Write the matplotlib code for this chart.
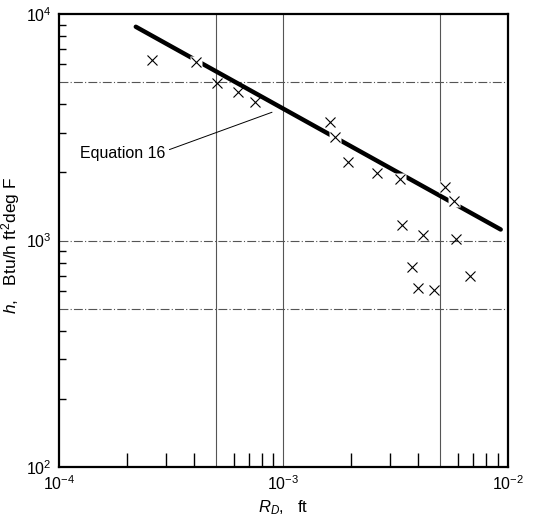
import numpy as np
import matplotlib
matplotlib.use('Agg')
import matplotlib.pyplot as plt
from matplotlib import rcParams
from matplotlib.ticker import LogLocator, NullFormatter, FixedLocator

rcParams['font.family'] = ['Liberation Sans', 'DejaVu Sans']
rcParams['mathtext.fontset'] = 'custom'
rcParams['mathtext.rm'] = 'Liberation Sans'
rcParams['mathtext.it'] = 'Liberation Sans:italic'
rcParams['mathtext.default'] = 'regular'

# 测量数据点 (R_D [ft], h [Btu/h ft2 degF])
rd_pts = [2.59e-4, 4.10e-4, 5.04e-4, 6.31e-4, 7.51e-4, 1.62e-3, 1.69e-3,
          1.94e-3, 2.62e-3, 3.31e-3, 5.25e-3, 5.75e-3, 3.38e-3, 4.19e-3,
          5.87e-3, 3.75e-3, 3.98e-3, 4.69e-3, 6.78e-3]
h_pts = [6265, 6140, 4960, 4525, 4087, 3336, 2864,
         2221, 1987, 1869, 1722, 1494, 1170, 1057,
         1015, 764, 617, 604, 697]
# 落在直线上的点（原图中直线在这些点处断开）
on_line = [False, True, False, False, False, False, True,
           False, False, True, True, True, False, False,
           False, False, False, False, False]

# Equation 16 直线端点
eq_rd = [2.2e-4, 9.3e-3]
eq_h = [8800, 1120]

grid_x = [5e-4, 1e-3, 5e-3]
grid_y = [5e3, 1e3, 5e2]

fig = plt.figure(figsize=(5.46, 5.26), dpi=100)
ax = fig.add_axes([0.108, 0.112, 0.822, 0.861])
ax.set_xscale('log')
ax.set_yscale('log')
ax.set_xlim(1e-4, 1e-2)
ax.set_ylim(1e2, 1e4)

for gx in grid_x:
    ax.axvline(gx, color='#555555', lw=0.8, zorder=1)
for gy in grid_y:
    ax.axhline(gy, color='#555555', lw=0.8, ls=(0, (8, 2, 1, 2)), zorder=1)

ax.plot(eq_rd, eq_h, color='black', lw=3.2, solid_capstyle='round', zorder=2)

gap_x = [x for x, f in zip(rd_pts, on_line) if f]
gap_y = [y for y, f in zip(h_pts, on_line) if f]
ax.plot(gap_x, gap_y, ls='none', marker='s', ms=9, mfc='white', mec='none', zorder=3)
ax.plot(rd_pts, h_pts, ls='none', marker='x', ms=7, mew=0.8, color='black', zorder=4)

ax.annotate('Equation 16', xy=(8.9e-4, 3690), xytext=(1.24e-4, 2430),
            fontsize=11.5, ha='left', va='center',
            arrowprops=dict(arrowstyle='-', lw=0.7, color='black',
                            shrinkA=1, shrinkB=0, relpos=(1.0, 0.65)))

ax.xaxis.set_major_locator(FixedLocator([1e-4, 1e-3, 1e-2]))
ax.yaxis.set_major_locator(FixedLocator([1e2, 1e3, 1e4]))
ax.set_xticklabels(['10$^{-4}$', '10$^{-3}$', '10$^{-2}$'])
ax.set_yticklabels(['10$^{2}$', '10$^{3}$', '10$^{4}$'])
ax.xaxis.set_minor_locator(LogLocator(base=10, subs=[2, 3, 4, 6, 7, 8, 9]))
ax.yaxis.set_minor_locator(LogLocator(base=10, subs=[2, 3, 4, 6, 7, 8, 9]))
ax.xaxis.set_minor_formatter(NullFormatter())
ax.yaxis.set_minor_formatter(NullFormatter())
ax.tick_params(which='major', length=0, labelsize=11.5, pad=5)
ax.tick_params(axis='x', which='minor', direction='in', length=10, width=1)
ax.tick_params(axis='y', which='minor', direction='in', length=5, width=1)

for s in ax.spines.values():
    s.set_linewidth(1.6)

ax.set_xlabel(r'$\mathit{R_D}$,   ft', fontsize=12, labelpad=4)
ax.set_ylabel(r'$\mathit{h}$,   Btu/h ft$^2$deg F', fontsize=12.5)
ax.yaxis.set_label_coords(-0.083, 0.49)

fig.savefig('out.png', dpi=100)
